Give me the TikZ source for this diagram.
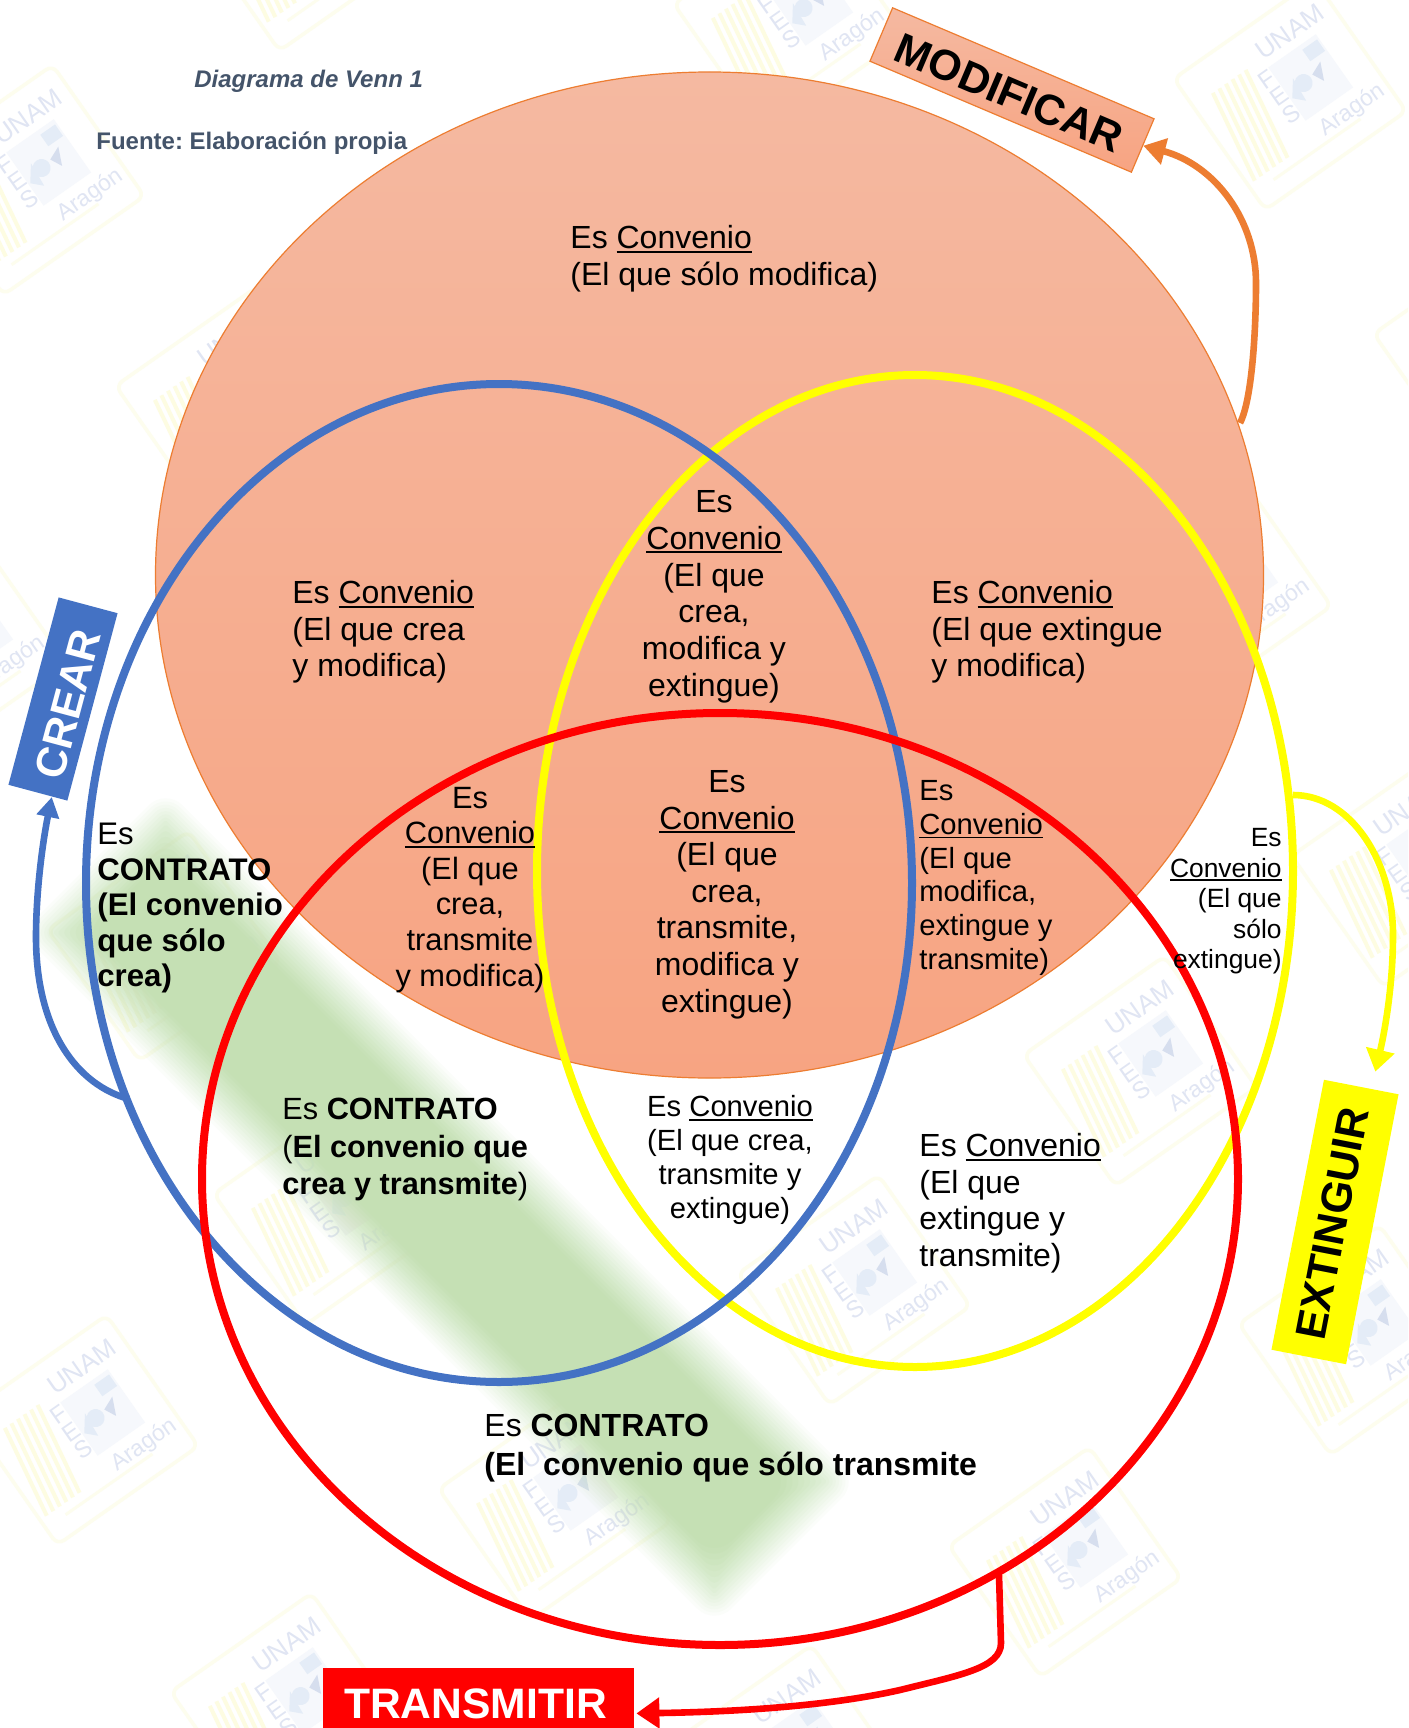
\documentclass[tikz,border=0pt]{standalone}
\usepackage{fontspec}
\setmainfont{Liberation Sans}
\usetikzlibrary{arrows.meta}
\definecolor{sfill1}{HTML}{F5B9A1}
\definecolor{sfill2}{HTML}{F7A482}
\definecolor{soro}{HTML}{ED7D31}
\definecolor{sblue}{HTML}{4472C4}
\definecolor{sgreen}{HTML}{C5E0B4}
\definecolor{sslate}{HTML}{44546A}
\definecolor{syellow}{HTML}{FFFF00}
\definecolor{sred}{HTML}{FF0000}
\definecolor{wmframe}{HTML}{FDFDEE}
\definecolor{wmstripe}{HTML}{FDFCE2}
\definecolor{wmtext}{HTML}{E0E5F3}
\definecolor{wmseal}{HTML}{F6F8FC}
\definecolor{wmblob}{HTML}{E4ECF7}
\definecolor{wmdark}{HTML}{D6DEEE}
\newcommand\fz[2]{\fontsize{#1}{#2}\selectfont}
\newcommand\ulcv[1]{\setbox0=\hbox{#1}\rlap{\rule[-2pt]{\wd0}{.9pt}}\copy0 }
\newcommand\cvn{\ulcv{Convenio}}
\frenchspacing
\tikzset{
  x=0.5pt,y=-0.5pt,
  lbl/.style={inner sep=0pt,align=left,anchor=north west},
  lblc/.style={inner sep=0pt,align=center,anchor=north},
  lblr/.style={inner sep=0pt,align=right,anchor=north east},
  lbig/.style={font=\fz{16}{18.3}},
  lmid/.style={font=\fz{14.6}{16.9}},
  setring/.style={line width=4pt},
  linkline/.style={line width=3.3pt},
  captext/.style={inner sep=0pt,font=\bfseries\fz{12}{14},text=sslate,anchor=base west},
  tagbox/.style={inner sep=0pt,font=\bfseries\fz{21.4}{24}},
  wmt/.style={inner sep=0pt,text=wmtext,transform shape},
}
% faint background stamp
\newcommand\stamp[3]{%
  \begin{scope}[shift={(#2,#3)},rotate=35]
    \draw[wmframe,line width=1.8pt,rounded corners=4pt] (-86,-80) rectangle (86,80);
    \draw[wmframe,line width=1.5pt] (-62,60) -- (44,60);
    \foreach \k in {0,...,5}{
      \draw[wmstripe,line width=2pt] ({-22-8*\k},-46) -- ({-38-8*\k},50);
    }
    \fill[wmseal] (-2,-35) rectangle (56,30);
    \fill[wmblob] (18,-2) circle [radius=9];
    \fill[wmblob] (0,4) -- (12,-12) -- (10,14) -- cycle;
    \fill[wmdark] (30,-4) -- (44,-10) -- (36,8) -- cycle;
    \fill[wmblob] (36,-30) rectangle (54,-16);
    \node[wmt,font=\fz{13}{14}] (#1u) at (36,-52) {UNAM};
    \node[wmt,font=\fz{11.5}{13}] (#1a) at (42,48) {Aragón};
    \node[wmt,font=\fz{12}{13}] (#1f) at (-10,-26) {F};
    \node[wmt,font=\fz{12}{13}] (#1e) at (-10,-5) {E};
    \node[wmt,font=\fz{12}{13}] (#1s) at (-10,16) {S};
  \end{scope}}
\begin{document}
\begin{tikzpicture}
\useasboundingbox (0,0) rectangle (1408,1728);
\clip (0,0) rectangle (1408,1728);
\fill[white] (0,0) rectangle (1408,1728);
% watermark
\stamp{wa}{28}{180}
\stamp{wb}{304}{-64}
\stamp{wc}{790}{20}
\stamp{wd}{1290}{95}
\stamp{we}{232}{402}
\stamp{wf}{-50}{647}
\stamp{wg}{1215}{590}
\stamp{wh}{1140}{1071}
\stamp{wi}{1355}{1340}
\stamp{wj}{1065}{1562}
\stamp{wk}{854}{1290}
\stamp{wl}{555}{1505}
\stamp{wm}{330}{1210}
\stamp{wn}{287}{1708}
\stamp{wo}{787}{1760}
\stamp{wp}{1408}{872}
\stamp{wq}{1490}{350}
\stamp{wr}{164}{946}
\stamp{ws}{82}{1430}
% blurred green band
\begin{scope}[shift={(440,1207)},rotate=-45]
  \foreach \k in {1,...,16}{
    \pgfmathsetmacro\ee{24-(\k-1)*48/15}
    \pgfmathsetmacro\aa{1/(16-\k+1)}
    \pgfmathsetmacro\rr{max(abs(\ee),1)}
    \fill[sgreen,opacity=\aa,rounded corners=\rr*0.5pt] ({-466-\ee},{-78-\ee}) rectangle ({466+\ee},{78+\ee});
  }
\end{scope}
% sets
\draw[soro,line width=.6pt,top color=sfill1,bottom color=sfill2] (709.5,575) ellipse [x radius=554, y radius=503];
\draw[syellow,setring] (915,871) ellipse [x radius=378, y radius=496];
\draw[sblue,setring] (499,883) ellipse [x radius=413, y radius=499];
\draw[sred,setring] (720,1179) ellipse [x radius=518, y radius=466];
% named points on the sets
\coordinate (fromsalmon) at (1240,423);
\coordinate (fromblue) at (129,1099);
\coordinate (fromyellow) at (1293,795);
\coordinate (fromred) at (999,1575);
% labels on the tags
\node[tagbox,draw=soro,line width=.6pt,top color=sfill1,bottom color=sfill2,rotate=-23,minimum width=142pt,minimum height=29pt,text height=18.5pt,text depth=0pt] (modif) at (1012,90) {MODIFICAR\kern 1.5pt};
\node[tagbox,fill=sblue,text=white,rotate=75,minimum width=97pt,minimum height=30.5pt,text height=20.5pt,text depth=0pt] (crear) at (63,699) {CREAR\kern 4pt};
\node[tagbox,fill=syellow,rotate=79,minimum width=137.5pt,minimum height=38pt,font=\bfseries\fz{21.5}{24},text height=15.4pt,text depth=3pt] (extinguir) at (1335,1222) {EXTINGUIR\kern 2pt};
\node[inner sep=0pt,fill=sred,text=white,anchor=north,minimum width=155.5pt,text height=25pt,text depth=20pt,font=\bfseries\fz{21.3}{24}] (transmitir) at (478.5,1668) {TRANSMITIR\kern 3pt};
% connectors
\draw[soro,linkline,-{Triangle[length=11pt,width=13pt]}] (fromsalmon) .. controls (1252,400) and (1256,330) .. (1256,283) .. controls (1256,220) and (1215,165) .. (modif.east);
\draw[sblue,linkline,-{Triangle[length=10pt,width=11pt]}] (fromblue) .. controls (77,1085) and (36,1030) .. (36,937) .. controls (36,890) and (43,840) .. ([xshift=7pt,yshift=-2pt]crear.west);
\draw[syellow,linkline,-{Triangle[length=11pt,width=14pt]}] (fromyellow) .. controls (1350,795) and (1393,860) .. (1393,935) .. controls (1393,985) and (1385,1030) .. ([xshift=7pt,yshift=7.5pt]extinguir.east);
\draw[sred,linkline,-{Triangle[length=11.5pt,width=15pt]}] (fromred) -- (1001,1643) .. controls (1001,1668) and (960,1675) .. (900,1690) .. controls (820,1708) and (720,1712) .. ([xshift=1pt]transmitir.east);
% caption
\node[captext,font=\bfseries\itshape\fz{12}{14}] (titulo) at (194,87.5) {Diagrama de Venn 1};
\node[captext] (fuente) at (96,149.5) {Fuente: Elaboración propia};
% region labels
\node[lbl,lbig] (ra) at (570,225) {Es \cvn\\(El que sólo modifica)};
\node[lbl,lbig] (rb) at (292,580) {Es \cvn\\(El que crea\\y modifica)};
\node[lblc,font=\fz{16}{18.4}] (rc) at (714,490) {Es\\\cvn\\(El que\\crea,\\modifica y\\extingue)};
\node[lbl,lbig] (rd) at (931,580) {Es \cvn\\(El que extingue\\y modifica)};
\node[lblc,font=\fz{15.4}{17.8}] (re) at (470,786.5) {Es\\\cvn\\(El que\\crea,\\transmite\\y modifica)};
\node[lblc,lbig] (rf) at (727,770) {Es\\\cvn\\(El que\\crea,\\transmite,\\modifica y\\extingue)};
\node[lbl,lmid] (rg) at (919,780) {Es\\\cvn\\(El que\\modifica,\\extingue y\\transmite)};
\node[lblr,font=\fz{13.2}{15.3}] (rh) at (1282,828) {Es\\\cvn\\(El que\\sólo\\extingue)};
\node[lbl,font=\fz{15.6}{17.75}] (ri) at (97,823) {Es\\\textbf{CONTRATO}\\\textbf{(El convenio}\\\textbf{que sólo}\\\textbf{crea)}};
\node[lbl,font=\fz{15.35}{18.7}] (rj) at (282,1098) {Es \textbf{CONTRATO}\\(\textbf{El convenio que}\\\textbf{crea y transmite})};
\node[lblc,font=\fz{14.6}{17}] (rk) at (730,1095) {Es \cvn\\(El que crea,\\transmite y\\extingue)};
\node[lbl,lbig] (rl) at (919,1133) {Es \cvn\\(El que\\extingue y\\transmite)};
\node[lbl,font=\fz{16}{19.2}] (rm) at (484,1414) {Es \textbf{CONTRATO}\\\textbf{(El\ \ convenio que sólo transmite}};
\end{tikzpicture}
\end{document}
